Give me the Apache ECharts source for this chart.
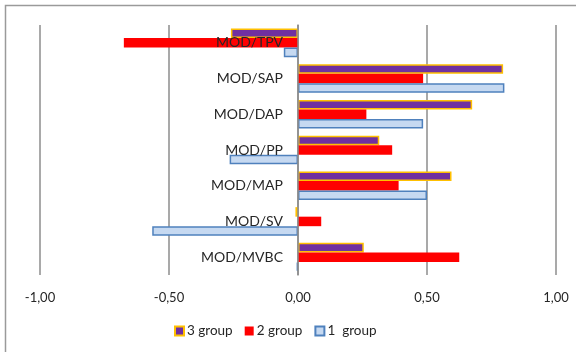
<!DOCTYPE html>
<html>
<head>
<meta charset="utf-8">
<script src="https://cdn.jsdelivr.net/npm/echarts@6/dist/echarts.min.js"></script>
<style>
  html, body { margin: 0; padding: 0; background: #ffffff; }
  #chart { width: 576px; height: 352px; }
</style>
</head>
<body>
<div id="chart"></div>
<script>
// Ratio categories, listed top to bottom
const categories = ['MOD/TPV', 'MOD/SAP', 'MOD/DAP', 'MOD/PP', 'MOD/MAP', 'MOD/SV', 'MOD/MVBC'];

// Values per group
const group3 = [-0.26, 0.795, 0.675, 0.315, 0.595, -0.01, 0.255];
const group2 = [-0.675, 0.485, 0.265, 0.365, 0.39, 0.09, 0.625];
const group1 = [-0.055, 0.80, 0.485, -0.265, 0.50, -0.565, -0.005];

// Value axis ticks
const tickMin = -1;
const tickMax = 1;
const tickStep = 0.5;

const seriesNames = ['3 group', '2 group', '1  group'];

const chart = echarts.init(document.getElementById('chart'), null, { renderer: 'canvas' });

const font = 'Lato, "Open Sans", "Noto Sans", sans-serif';
const gridColor = '#8c8c8c';

// plot area
const gridLeft = 40;
const gridRight = 20;
const plotWidth = 576 - gridLeft - gridRight;
// shift the category axis from the left edge to the zero line
const zeroShift = plotWidth * (0 - tickMin) / (tickMax - tickMin);

chart.setOption({
  animation: false,
  backgroundColor: '#ffffff',
  textStyle: { fontFamily: font },
  graphic: [{
    type: 'polyline',
    shape: { points: [[5.5, 360], [5.5, 5.5], [590, 5.5]] },
    style: { stroke: '#9a9a9a', lineWidth: 1.5, fill: null },
    silent: true
  }],
  grid: { left: gridLeft, right: gridRight, top: 25, bottom: 77, containLabel: false, outerBoundsMode: 'none' },
  legend: {
    data: seriesNames,
    bottom: 9,
    left: 169,
    itemWidth: 9,
    itemHeight: 9,
    itemGap: 12,
    icon: 'rect',
    textStyle: { fontSize: 13.5, color: '#262626', fontFamily: font, padding: [0, 0, 0, -2] }
  },
  xAxis: {
    type: 'value',
    min: tickMin,
    max: tickMax,
    interval: tickStep,
    axisLine: { show: false },
    axisTick: { show: false },
    splitLine: { show: true, lineStyle: { color: gridColor, width: 1.5 } },
    axisLabel: {
      margin: 16,
      fontSize: 13,
      color: '#262626',
      formatter: v => v.toFixed(2).replace('.', ',')
    }
  },
  yAxis: {
    type: 'category',
    data: categories,
    inverse: true,
    position: 'left',
    offset: -zeroShift,
    z: 10,
    axisLine: { show: true, onZero: false, lineStyle: { color: gridColor, width: 1.5 } },
    axisTick: { show: false },
    splitLine: { show: false },
    axisLabel: { margin: 15, fontSize: 14, color: '#262626' }
  },
  series: [
    {
      name: seriesNames[0],
      type: 'bar',
      data: group3,
      barGap: '0%',
      barCategoryGap: '20%',
      itemStyle: { color: '#7030A0', borderColor: '#FFC000', borderWidth: 1.5 }
    },
    {
      name: seriesNames[1],
      type: 'bar',
      data: group2,
      barGap: '0%',
      barCategoryGap: '20%',
      itemStyle: { color: '#FF0000', borderColor: '#FF0000', borderWidth: 0 }
    },
    {
      name: seriesNames[2],
      type: 'bar',
      data: group1,
      barGap: '0%',
      barCategoryGap: '20%',
      itemStyle: { color: '#C6D9F1', borderColor: '#4F81BD', borderWidth: 1.5 }
    }
  ]
});
</script>
</body>
</html>
